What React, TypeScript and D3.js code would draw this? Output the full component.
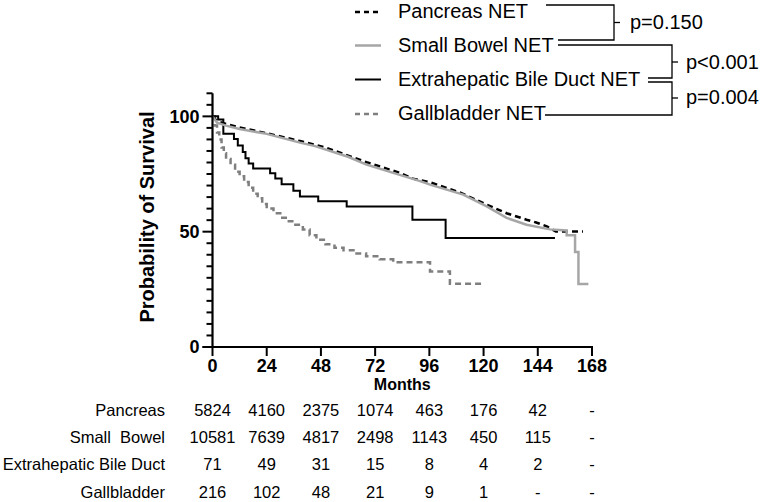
import React from "react";
import * as d3 from "d3";

const W = 762;
const H = 502;

const xTicks = [0, 24, 48, 72, 96, 120, 144, 168];
const yMajor = [0, 50, 100];

const pancT = [0, 2, 6, 12, 24, 38.7, 50, 68.2, 83, 88.8, 96.3, 110, 121.4, 130.2, 139, 143.3, 148, 152, 164];
const pancV = [100, 98, 96.7, 95.2, 92.7, 89.3, 86.5, 80.1, 75.5, 73, 71.4, 66.8, 61.7, 58, 55.2, 54, 52.3, 50.1, 50.1];

const bowelT = [0, 2, 6, 12, 24, 38.7, 45.4, 60, 68.2, 80, 91.9, 96.3, 111, 121.4, 130.2, 139, 149.4, 156.8, 156.8, 160.5, 160.5, 162, 162, 166.4];
const bowelV = [100, 97.3, 96, 94.5, 92.4, 88.6, 87.1, 82.5, 79.1, 75.5, 71.9, 70.4, 66.1, 61, 56, 53, 51, 50.5, 48.4, 48.4, 41.2, 41.2, 27.3, 27.3];

const ebdT = [0, 2.5, 4.8, 9.5, 11.2, 13.4, 14.6, 16, 18, 25.5, 27.8, 30.6, 35.8, 38.7, 46.8, 59.4, 88.5, 103.2, 151.6];
const ebdV = [100, 98.6, 92.5, 90.2, 87.4, 84.6, 81.8, 79.6, 77.4, 75.3, 73.1, 70.6, 67.7, 65.3, 63.2, 60.9, 55.2, 47.3, 47.3];

const gbT = [0, 1, 2, 3, 4, 5, 6, 8, 10, 12, 14, 16, 18, 20, 22, 24, 27, 30, 33, 36, 40, 43, 46, 50, 54, 58, 63, 68, 74, 80, 96.3, 105.1, 120];
const gbV = [100, 96, 93, 90, 86.5, 84, 81.5, 79, 76, 74, 71.5, 69, 66.5, 64.5, 62, 60, 58, 56, 54.5, 53, 51, 48.5, 46.5, 44.5, 43, 42, 40.5, 39.3, 38, 36.7, 32.7, 27.4, 27.4];

const legendLabels = ["Pancreas NET", "Small Bowel NET", "Extrahepatic Bile Duct NET", "Gallbladder NET"];
const pValues = ["p=0.150", "p<0.001", "p=0.004"];

const rowLabels = ["Pancreas", "Small  Bowel", "Extrahepatic Bile Duct", "Gallbladder"];
const atRiskPanc = ["5824", "4160", "2375", "1074", "463", "176", "42", "-"];
const atRiskBowel = ["10581", "7639", "4817", "2498", "1143", "450", "115", "-"];
const atRiskEbd = ["71", "49", "31", "15", "8", "4", "2", "-"];
const atRiskGb = ["216", "102", "48", "21", "9", "1", "-", "-"];

const FONT = "Arial, 'Liberation Sans', Helvetica, sans-serif";

export default function App() {
  const x = d3.scaleLinear().domain([0, 168]).range([212.5, 592]);
  const y = d3.scaleLinear().domain([0, 110]).range([347, 93.3]);

  const lin = d3.line<[number, number]>().x((d) => x(d[0])).y((d) => y(d[1])).curve(d3.curveLinear);
  const step = d3.line<[number, number]>().x((d) => x(d[0])).y((d) => y(d[1])).curve(d3.curveStepAfter);

  const zip = (t: number[], v: number[]) => t.map((tt, i) => [tt, v[i]] as [number, number]);

  const series = [
    { name: legendLabels[0], d: lin(zip(pancT, pancV)), stroke: "#000", width: 2.5, dash: "6,4" },
    { name: legendLabels[1], d: lin(zip(bowelT, bowelV)), stroke: "#a6a6a6", width: 2.5, dash: undefined },
    { name: legendLabels[2], d: step(zip(ebdT, ebdV)), stroke: "#000", width: 2, dash: undefined },
    { name: legendLabels[3], d: step(zip(gbT, gbV)), stroke: "#7f7f7f", width: 2.5, dash: "6,4" },
  ];
  const drawOrder = [3, 2, 0, 1];

  const minorTicks = d3.range(0, 111, 5).filter((v) => !yMajor.includes(v));

  const legendY = [11, 44.5, 78.5, 113];
  const tableRows = [atRiskPanc, atRiskBowel, atRiskEbd, atRiskGb];
  const rowY = [410, 437, 464, 492];

  return (
    <svg width={W} height={H} style={{ position: "absolute", left: 0, top: 0, background: "#fff" }} fontFamily={FONT}>
      <rect x={0} y={0} width={W} height={H} fill="#fff" />
      {/* curves */}
      {drawOrder.map((i) => (
        <path key={i} d={series[i].d || ""} fill="none" stroke={series[i].stroke} strokeWidth={series[i].width} strokeDasharray={series[i].dash} />
      ))}
      {/* y axis */}
      <line x1={x(0)} x2={x(0)} y1={y(110)} y2={y(0) + 1} stroke="#000" strokeWidth={2.2} />
      {minorTicks.map((v) => (
        <line key={"m" + v} x1={x(0) - 6} x2={x(0)} y1={y(v)} y2={y(v)} stroke="#000" strokeWidth={2} />
      ))}
      {yMajor.map((v) => (
        <g key={"M" + v}>
          <line x1={x(0) - 10} x2={x(0)} y1={y(v)} y2={y(v)} stroke="#000" strokeWidth={2} />
          <text x={x(0) - 13} y={y(v)} dy="0.35em" textAnchor="end" fontWeight="bold" fontSize={18}>
            {v}
          </text>
        </g>
      ))}
      {/* x axis */}
      <line x1={x(0) - 10} x2={x(168) + 1} y1={y(0)} y2={y(0)} stroke="#000" strokeWidth={2.2} />
      {xTicks.map((t) => (
        <g key={"x" + t}>
          <line x1={x(t)} x2={x(t)} y1={y(0)} y2={y(0) + 9} stroke="#000" strokeWidth={2} />
          <text x={x(t)} y={366} dy="0.35em" textAnchor="middle" fontWeight="bold" fontSize={18}>
            {t}
          </text>
        </g>
      ))}
      <text x={x(84)} y={384} dy="0.35em" textAnchor="middle" fontWeight="bold" fontSize={16}>
        Months
      </text>
      <text transform="translate(154,217) rotate(-90)" textAnchor="middle" fontWeight="bold" fontSize={20}>
        Probability of Survival
      </text>
      {/* legend */}
      {series.map((s, i) => (
        <g key={"l" + i}>
          <line x1={355} x2={381} y1={legendY[i] + 1} y2={legendY[i] + 1} stroke={s.stroke} strokeWidth={s.width} strokeDasharray={s.dash ? "5,4" : undefined} />
          <text x={398} y={legendY[i]} dy="0.35em" fontSize={20}>
            {s.name}
          </text>
        </g>
      ))}
      {/* brackets */}
      <g fill="none" stroke="#000" strokeWidth={1.3}>
        <polyline points="546,5 614,5 614,40 558,40" />
        <line x1={614} x2={620} y1={22.5} y2={22.5} />
        <polyline points="558,45 672,45 672,78 648,78" />
        <line x1={672} x2={678} y1={62} y2={62} />
        <polyline points="648,82 672,82 672,115 545,115" />
        <line x1={672} x2={678} y1={98} y2={98} />
      </g>
      <text x={630} y={22} dy="0.35em" fontSize={20}>{pValues[0]}</text>
      <text x={686} y={62} dy="0.35em" fontSize={20}>{pValues[1]}</text>
      <text x={686} y={97} dy="0.35em" fontSize={20}>{pValues[2]}</text>
      {/* at-risk table */}
      {rowLabels.map((r, i) => (
        <g key={"r" + i}>
          <text x={165} y={rowY[i]} dy="0.35em" textAnchor="end" fontSize={16.5} style={{ whiteSpace: "pre" }}>
            {r}
          </text>
          {tableRows[i].map((v, j) => (
            <text key={j} x={x(xTicks[j])} y={rowY[i]} dy="0.35em" textAnchor="middle" fontSize={16.5}>
              {v}
            </text>
          ))}
        </g>
      ))}
    </svg>
  );
}
